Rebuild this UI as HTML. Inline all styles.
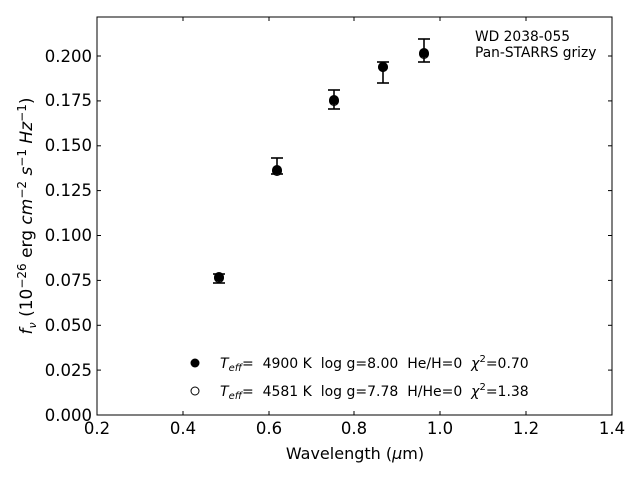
<!DOCTYPE html>
<html><head><style>body{margin:0;background:#fff}svg{display:block}text{font-family:"DejaVu Sans","Liberation Sans",sans-serif;fill:#000;white-space:pre}</style></head><body>
<svg width="640" height="480" xmlns="http://www.w3.org/2000/svg">
<rect x="97" y="17" width="515" height="398" fill="none" stroke="#000" stroke-width="1"/>
<g stroke="#000" stroke-width="1">
<line x1="97" y1="415" x2="97" y2="411"/><line x1="183" y1="415" x2="183" y2="411"/><line x1="269" y1="415" x2="269" y2="411"/><line x1="354" y1="415" x2="354" y2="411"/><line x1="440" y1="415" x2="440" y2="411"/><line x1="526" y1="415" x2="526" y2="411"/><line x1="612" y1="415" x2="612" y2="411"/>
<line x1="97" y1="17" x2="97" y2="21"/><line x1="183" y1="17" x2="183" y2="21"/><line x1="269" y1="17" x2="269" y2="21"/><line x1="354" y1="17" x2="354" y2="21"/><line x1="440" y1="17" x2="440" y2="21"/><line x1="526" y1="17" x2="526" y2="21"/><line x1="612" y1="17" x2="612" y2="21"/>
</g>
<g stroke="#000" stroke-width="1">
<line x1="97" y1="415" x2="101" y2="415"/><line x1="97" y1="370.1" x2="101" y2="370.1"/><line x1="97" y1="325.3" x2="101" y2="325.3"/><line x1="97" y1="280.4" x2="101" y2="280.4"/><line x1="97" y1="235.5" x2="101" y2="235.5"/><line x1="97" y1="190.6" x2="101" y2="190.6"/><line x1="97" y1="145.8" x2="101" y2="145.8"/><line x1="97" y1="100.9" x2="101" y2="100.9"/><line x1="97" y1="56" x2="101" y2="56"/>
<line x1="612" y1="415" x2="608" y2="415"/><line x1="612" y1="370.1" x2="608" y2="370.1"/><line x1="612" y1="325.3" x2="608" y2="325.3"/><line x1="612" y1="280.4" x2="608" y2="280.4"/><line x1="612" y1="235.5" x2="608" y2="235.5"/><line x1="612" y1="190.6" x2="608" y2="190.6"/><line x1="612" y1="145.8" x2="608" y2="145.8"/><line x1="612" y1="100.9" x2="608" y2="100.9"/><line x1="612" y1="56" x2="608" y2="56"/>
</g>
<g font-size="16.5" text-anchor="end">
<text x="92" y="421">0.000</text><text x="92" y="376">0.025</text><text x="92" y="331">0.050</text><text x="92" y="286">0.075</text><text x="92" y="241">0.100</text><text x="92" y="196">0.125</text><text x="92" y="151">0.150</text><text x="92" y="106">0.175</text><text x="92" y="62">0.200</text>
</g>
<g font-size="16.5" text-anchor="middle">
<text x="97" y="434">0.2</text><text x="183" y="434">0.4</text><text x="269" y="434">0.6</text><text x="354" y="434">0.8</text><text x="440" y="434">1.0</text><text x="526" y="434">1.2</text><text x="612" y="434">1.4</text>
</g>
<text x="355" y="459" font-size="16" text-anchor="middle">Wavelength (<tspan font-style="italic">μ</tspan>m)</text>
<text transform="translate(32,216) rotate(-90)" font-size="17" text-anchor="middle"><tspan font-style="italic">f<tspan font-size="11" dy="4">ν</tspan></tspan><tspan dy="-4"> (10</tspan><tspan font-size="12" dy="-6">−26</tspan><tspan dy="6"> erg </tspan><tspan font-style="italic">cm</tspan><tspan font-size="12" dy="-6">−2</tspan><tspan dy="6" font-style="italic"> s</tspan><tspan font-size="12" dy="-6">−1</tspan><tspan dy="6" font-style="italic"> Hz</tspan><tspan font-size="12" dy="-6">−1</tspan><tspan dy="6">)</tspan></text>
<text x="475" y="41" font-size="13.8">WD 2038-055</text>
<text x="475" y="57" font-size="13.8">Pan-STARRS grizy</text>
<g fill="#fff" stroke="#000">
<circle cx="219" cy="278" r="4.5"/><circle cx="277" cy="171" r="4.5"/><circle cx="334" cy="101" r="4.5"/><circle cx="383" cy="67" r="4.5"/><circle cx="424" cy="54" r="4.5"/>
</g>
<g stroke="#000" stroke-width="1.6">
<line x1="219" y1="274" x2="219" y2="283"/><line x1="213" y1="274" x2="225" y2="274"/><line x1="213" y1="283" x2="225" y2="283"/>
<line x1="277" y1="158" x2="277" y2="174"/><line x1="271" y1="158" x2="283" y2="158"/><line x1="271" y1="174" x2="283" y2="174"/>
<line x1="334" y1="90" x2="334" y2="109"/><line x1="328" y1="90" x2="340" y2="90"/><line x1="328" y1="109" x2="340" y2="109"/>
<line x1="383" y1="62" x2="383" y2="83"/><line x1="377" y1="62" x2="389" y2="62"/><line x1="377" y1="83" x2="389" y2="83"/>
<line x1="424" y1="39" x2="424" y2="62"/><line x1="418" y1="39" x2="430" y2="39"/><line x1="418" y1="62" x2="430" y2="62"/>
</g>
<g fill="#000">
<circle cx="219" cy="277" r="5"/><circle cx="277" cy="170" r="5"/><circle cx="334" cy="100" r="5"/><circle cx="383" cy="67" r="5"/><circle cx="424" cy="53" r="5"/>
</g>
<circle cx="195" cy="363" r="4.5" fill="#000"/>
<circle cx="195" cy="391" r="4" fill="#fff" stroke="#000"/>
<g font-size="14">
<text x="220" y="368" xml:space="preserve"><tspan font-style="italic">T<tspan font-size="10" dy="3">eff</tspan></tspan><tspan dy="-3">=  4900 K  log g=8.00  He/H=0  </tspan><tspan font-style="italic">χ</tspan><tspan font-size="10" dy="-6">2</tspan><tspan dy="6">=0.70</tspan></text>
<text x="220" y="396" xml:space="preserve"><tspan font-style="italic">T<tspan font-size="10" dy="3">eff</tspan></tspan><tspan dy="-3">=  4581 K  log g=7.78  H/He=0  </tspan><tspan font-style="italic">χ</tspan><tspan font-size="10" dy="-6">2</tspan><tspan dy="6">=1.38</tspan></text>
</g>
</svg>
</body></html>
